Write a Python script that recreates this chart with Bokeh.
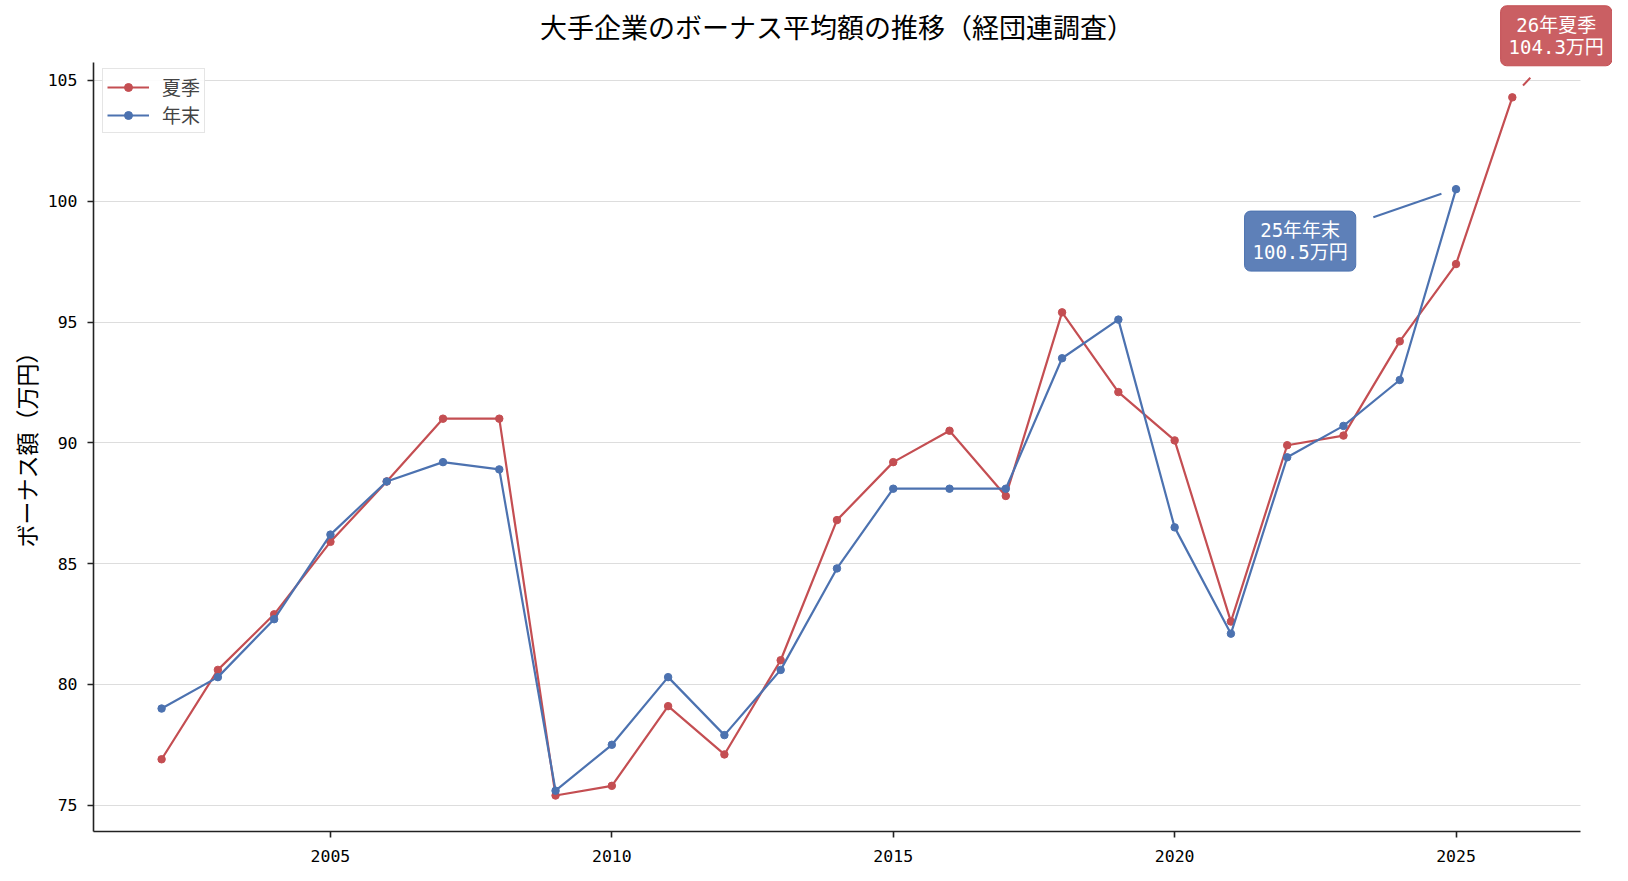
from bokeh.plotting import figure
from bokeh.models import Label, Range1d, FixedTicker, Legend, LegendItem, Title
from bokeh.embed import file_html
from bokeh.resources import INLINE

years_summer = list(range(2002, 2027))
summer = [76.9, 80.6, 82.9, 85.9, 88.4, 91.0, 91.0, 75.4, 75.8, 79.1, 77.1, 81.0,
          86.8, 89.2, 90.5, 87.8, 95.4, 92.1, 90.1, 82.6, 89.9, 90.3, 94.2, 97.4, 104.3]
years_winter = list(range(2002, 2026))
winter = [79.0, 80.3, 82.7, 86.2, 88.4, 89.2, 88.9, 75.6, 77.5, 80.3, 77.9, 80.6,
          84.8, 88.1, 88.1, 88.1, 93.5, 95.1, 86.5, 82.1, 89.4, 90.7, 92.6, 100.5]
x_ticks = [2005, 2010, 2015, 2020, 2025]
y_ticks = [75, 80, 85, 90, 95, 100, 105]

title_text = "大手企業のボーナス平均額の推移（経団連調査）"
ylabel_text = "ボーナス額（万円）"
label_summer = "夏季"
label_winter = "年末"

RED = "#c44e52"
BLUE = "#4c72b0"
FONT = "'DejaVu Sans Mono', 'Noto Sans CJK JP', monospace"

# visible axes extent (the frame is larger so that annotations outside it are not clipped)
X_LO, X_HI = 2000.79, 2027.21
Y_LO, Y_HI = 73.91, 105.73

p = figure(width=1612, height=865, output_backend="svg", toolbar_location=None,
           x_range=Range1d(X_LO, 2027.78), y_range=Range1d(Y_LO, 108.31),
           min_border_left=93, min_border_right=0, min_border_top=0, min_border_bottom=34)

p.outline_line_color = None
p.xgrid.grid_line_color = None
p.ygrid.grid_line_color = "#dddddd"
p.ygrid.grid_line_width = 1
p.ygrid.cross_bounds = (X_LO, X_HI)

for ax in (p.xaxis[0], p.yaxis[0]):
    ax.axis_line_color = "#222222"
    ax.axis_line_width = 1.6
    ax.major_tick_line_color = "#222222"
    ax.major_tick_line_width = 1.6
    ax.major_tick_out = 6
    ax.major_tick_in = 0
    ax.minor_tick_line_color = None
    ax.major_label_text_font = FONT
    ax.major_label_text_font_size = "16.5px"
    ax.major_label_text_color = "#000000"

p.xaxis.bounds = (X_LO, X_HI)
p.yaxis.bounds = (Y_LO, Y_HI)
p.xaxis.ticker = FixedTicker(ticks=x_ticks)
p.yaxis.ticker = FixedTicker(ticks=y_ticks)
p.xaxis.major_label_standoff = 12
p.yaxis.major_label_standoff = 10

# y-axis label as a side title so it can be positioned along the axis
ylabel = Title(text=ylabel_text, align="left", offset=284,
               text_font=FONT, text_font_size="23px", text_font_style="normal",
               text_color="#000000", standoff=8)
p.add_layout(ylabel, "left")

l1 = p.line(years_summer, summer, line_color=RED, line_width=2.2)
s1 = p.scatter(years_summer, summer, size=7.5, fill_color=RED, line_color=RED)
l2 = p.line(years_winter, winter, line_color=BLUE, line_width=2.2)
s2 = p.scatter(years_winter, winter, size=7.5, fill_color=BLUE, line_color=BLUE)

legend = Legend(items=[LegendItem(label=label_summer, renderers=[l1, s1]),
                       LegendItem(label=label_winter, renderers=[l2, s2])],
                location=(9, 698))
legend.label_text_font = FONT
legend.label_text_font_size = "19px"
legend.border_line_color = "#cccccc"
legend.border_line_width = 1.5
legend.background_fill_alpha = 0.9
legend.glyph_width = 42
legend.glyph_height = 20
legend.label_height = 20
legend.spacing = 1
legend.padding = 4
legend.margin = 0
legend.label_standoff = 13
p.add_layout(legend)

# title (drawn inside the enlarged frame)
p.add_layout(Label(x=(X_LO + X_HI) / 2, y=107.15, text=title_text,
                   text_align="center", text_baseline="middle",
                   text_font=FONT, text_font_size="27px", text_color="#000000"))

# annotation for last summer value
sx, sy = years_summer[-1], summer[-1]
p.segment(x0=[sx + 0.19], y0=[sy + 0.49], x1=[sx + 0.32], y1=[sy + 0.81],
          line_color=RED, line_width=2)
p.add_layout(Label(x=sx + 0.78, y=sy + 2.55, text=f"{str(sx)[2:]}年夏季\n{sy}万円",
                   text_align="center", text_baseline="middle", text_line_height=1.0,
                   text_font=FONT, text_font_size="19px", text_color="white",
                   background_fill_color=RED, background_fill_alpha=0.9,
                   border_line_color=RED, border_radius=6, padding=8))

# annotation for last year-end value
wx, wy = years_winter[-1], winter[-1]
p.segment(x0=[wx - 1.47], y0=[wy - 1.16], x1=[wx - 0.26], y1=[wy - 0.19],
          line_color=BLUE, line_width=2)
p.add_layout(Label(x=wx - 2.77, y=wy - 2.15, text=f"{str(wx)[2:]}年年末\n{wy}万円",
                   text_align="center", text_baseline="middle", text_line_height=1.0,
                   text_font=FONT, text_font_size="19px", text_color="white",
                   background_fill_color=BLUE, background_fill_alpha=0.9,
                   border_line_color=BLUE, border_radius=6, padding=8))

open("out.html", "w").write(file_html(p, INLINE))
